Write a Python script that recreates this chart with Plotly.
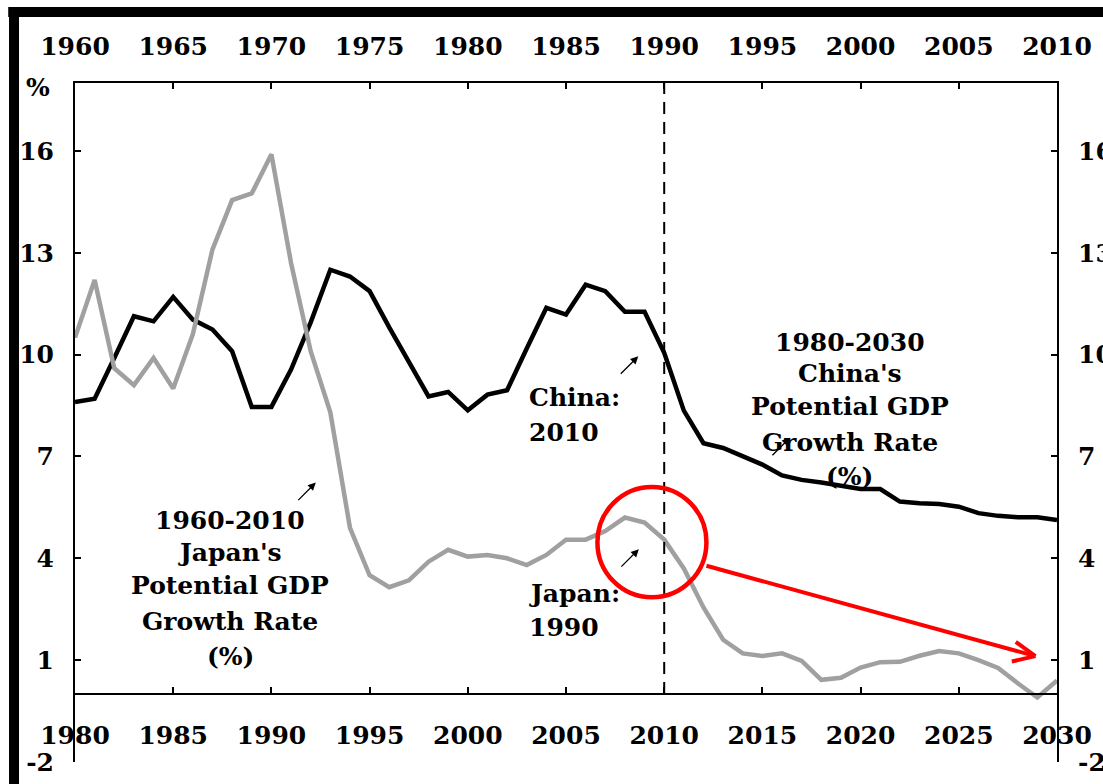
import plotly.graph_objects as go

# ---------------- data ----------------
japan_years = list(range(1960, 2011))
japan_growth = [10.5, 12.2, 9.6, 9.1, 9.9, 9.0, 10.6, 13.1, 14.55, 14.75,
                15.9, 12.7, 10.1, 8.3, 4.9, 3.5, 3.15, 3.35, 3.9, 4.25,
                4.05, 4.1, 4.0, 3.8, 4.1, 4.55, 4.55, 4.8, 5.2, 5.05,
                4.55, 3.7, 2.55, 1.6, 1.2, 1.12, 1.2, 0.98, 0.42, 0.48,
                0.78, 0.94, 0.95, 1.13, 1.27, 1.2, 1.0, 0.77, 0.32, -0.1,
                0.4]

china_years = list(range(1980, 2031))
china_growth = [8.6, 8.7, 9.9, 11.13, 10.98, 11.7, 11.03, 10.74, 10.1, 8.46,
                8.46, 9.56, 10.95, 12.5, 12.3, 11.87, 10.8, 9.8, 8.77, 8.9,
                8.36, 8.82, 8.95, 10.18, 11.38, 11.18, 12.06, 11.87, 11.26, 11.26,
                10.05, 8.35, 7.39, 7.25, 7.0, 6.76, 6.44, 6.31, 6.23, 6.12,
                6.04, 6.04, 5.67, 5.62, 5.6, 5.52, 5.33, 5.25, 5.21, 5.21,
                5.13]

bottom_ticks = list(range(1980, 2031, 5))
top_ticks = list(range(1960, 2011, 5))
y_ticks = [-2, 1, 4, 7, 10, 13, 16]
y_tick_text = ["-2", "1", "4", "7", "10", "13", "16"]

japan_label = ["1960-2010", "Japan's", "Potential GDP", "Growth Rate", "(%)"]
china_label = ["1980-2030", "China's", "Potential GDP", "Growth Rate", "(%)"]

# ---------------- figure ----------------
FONT = "DejaVu Serif"
tf = dict(family=FONT, size=25, color="black", weight="bold")

fig = go.Figure()
fig.add_trace(go.Scatter(x=japan_years, y=japan_growth, xaxis="x2", yaxis="y",
                         mode="lines", line=dict(color="#a0a0a0", width=4.5),
                         showlegend=False, hoverinfo="skip"))
fig.add_trace(go.Scatter(x=china_years, y=china_growth, xaxis="x", yaxis="y",
                         mode="lines", line=dict(color="black", width=4.5),
                         showlegend=False, hoverinfo="skip"))
# invisible trace to activate right axis
fig.add_trace(go.Scatter(x=[None], y=[None], xaxis="x", yaxis="y2",
                         showlegend=False, hoverinfo="skip"))

axis_common = dict(showgrid=False, zeroline=False, showline=True,
                   linecolor="black", linewidth=2, ticks="inside",
                   ticklen=6, tickwidth=2, tickcolor="black", tickfont=tf,
                   automargin=False)

fig.update_layout(
    width=1103, height=784,
    margin=dict(l=75, r=46, t=83, b=22),
    paper_bgcolor="white", plot_bgcolor="white",
    xaxis=dict(range=[1980, 2030], tickvals=bottom_ticks, anchor="free",
               position=0.1, ticklabelstandoff=19, **axis_common),
    xaxis2=dict(range=[1960, 2010], tickvals=top_ticks, overlaying="x",
                side="top", anchor="y", ticklabelstandoff=16, **axis_common),
    yaxis=dict(range=[-2, 18], tickvals=y_ticks, ticktext=y_tick_text, anchor="x",
               ticklabelstandoff=14, **axis_common),
    yaxis2=dict(range=[-2, 18], tickvals=y_ticks, ticktext=y_tick_text, overlaying="y",
                side="right", anchor="x", ticklabelstandoff=14, **axis_common),
)

# dashed vertical at 2010 (China axis) / 1990 (Japan axis)
fig.add_shape(type="line", xref="x", yref="y", x0=2010, x1=2010, y0=0, y1=18,
              line=dict(color="black", width=2, dash="12px,8px"))

# red circle
fig.add_shape(type="circle", xref="x", yref="y", x0=2006.6, x1=2012.15,
              y0=2.85, y1=6.1, line=dict(color="#ff0000", width=4.5))

# frame
fig.add_shape(type="line", xref="paper", yref="paper", x0=-0.068, x1=1.06,
              y0=1.1046, y1=1.1046, line=dict(color="black", width=10))
fig.add_shape(type="line", xref="paper", yref="paper", x0=-0.0621, x1=-0.0621,
              y0=-0.05, y1=1.112, line=dict(color="black", width=10))

afont = dict(family=FONT, size=25, color="black", weight="bold")

# Japan label lines
jy = [5.10, 4.16, 3.19, 2.15, 1.12]
for t, yv in zip(japan_label, jy):
    fig.add_annotation(x=1987.9, y=yv, xref="x", yref="y", text=t,
                       showarrow=False, font=afont, xanchor="center", yanchor="middle")
cy = [10.35, 9.44, 8.47, 7.40, 6.40]
for t, yv in zip(china_label, cy):
    fig.add_annotation(x=2019.45, y=yv, xref="x", yref="y", text=t,
                       showarrow=False, font=afont, xanchor="center", yanchor="middle")

for t, yv in [("China:", 8.73), ("2010", 7.70), ("Japan:", 2.97), ("1990", 1.97)]:
    fig.add_annotation(x=2003.0, y=yv, xref="x", yref="y", text=t,
                       showarrow=False, font=afont, xanchor="left", yanchor="middle")

# "%" label
fig.add_annotation(x=-0.038, y=0.993, xref="paper", yref="paper", text="%",
                   showarrow=False, font=dict(family=FONT, size=25, color="black", weight="bold"),
                   xanchor="center", yanchor="middle")

# small arrows
for hx, hy in [(1992.26, 6.23), (2008.68, 9.95), (2008.71, 4.27), (2016.4, 7.55)]:
    fig.add_annotation(x=hx, y=hy, xref="x", yref="y", ax=-19, ay=19, text="",
                       showarrow=True, arrowhead=2, arrowsize=1.2, arrowwidth=1.3,
                       arrowcolor="black")

# red arrow: shaft + open V head
fig.add_shape(type="line", xref="x", yref="y", x0=2012.15, y0=3.78, x1=2028.9, y1=1.12,
              line=dict(color="#ff0000", width=4))
fig.add_shape(type="line", xref="x", yref="y", x0=2027.7, y0=0.96, x1=2028.9, y1=1.12,
              line=dict(color="#ff0000", width=4))
fig.add_shape(type="line", xref="x", yref="y", x0=2027.9, y0=1.54, x1=2028.9, y1=1.12,
              line=dict(color="#ff0000", width=4))

fig.write_html("out.html")
